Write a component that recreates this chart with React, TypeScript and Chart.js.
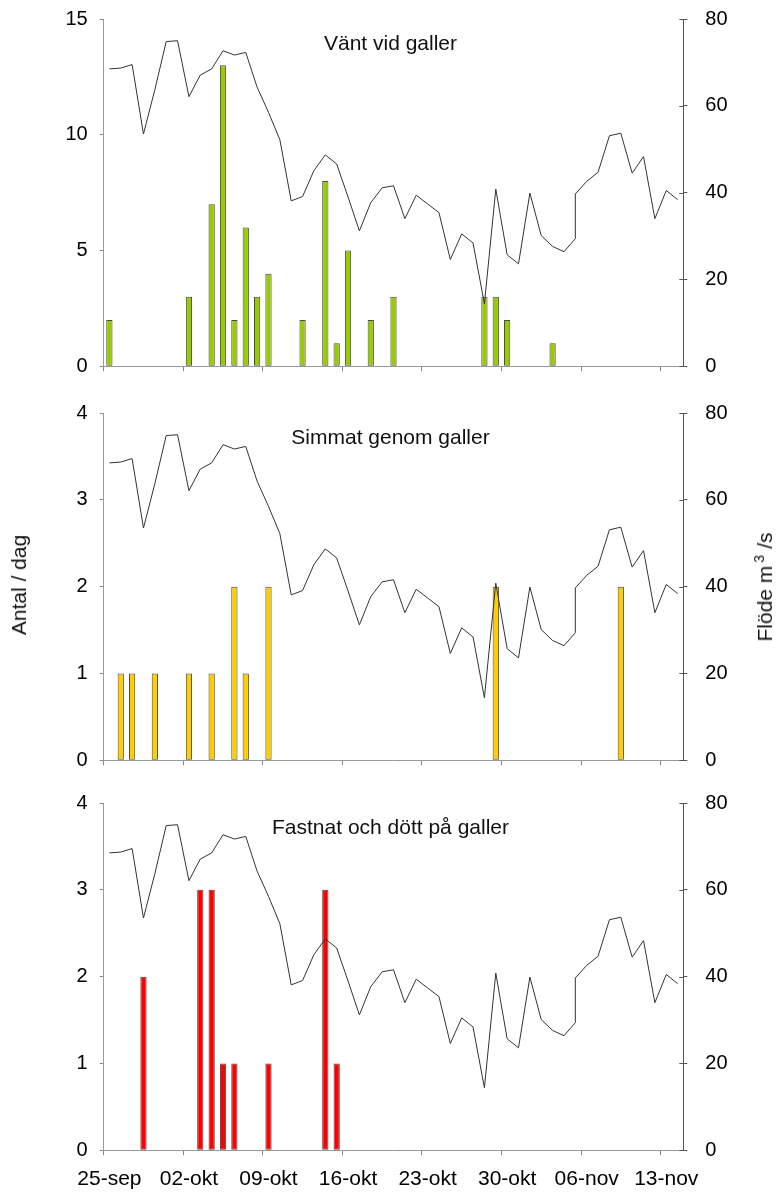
import React, { useEffect, useRef } from 'react';
import { Chart, registerables } from 'chart.js';

Chart.register(...registerables);

// Daily categories (25-sep .. 14-nov)
const DATES = [
  '25-sep', '26-sep', '27-sep', '28-sep', '29-sep', '30-sep',
  '01-okt', '02-okt', '03-okt', '04-okt', '05-okt', '06-okt', '07-okt', '08-okt', '09-okt', '10-okt',
  '11-okt', '12-okt', '13-okt', '14-okt', '15-okt', '16-okt', '17-okt', '18-okt', '19-okt', '20-okt',
  '21-okt', '22-okt', '23-okt', '24-okt', '25-okt', '26-okt', '27-okt', '28-okt', '29-okt', '30-okt', '31-okt',
  '01-nov', '02-nov', '03-nov', '04-nov', '05-nov', '06-nov', '07-nov', '08-nov', '09-nov', '10-nov',
  '11-nov', '12-nov', '13-nov', '14-nov',
];

// Flow series (m3/s); 05-nov holds two readings
const FLOW_DATES = [
  '25-sep', '26-sep', '27-sep', '28-sep', '29-sep', '30-sep',
  '01-okt', '02-okt', '03-okt', '04-okt', '05-okt', '06-okt', '07-okt', '08-okt', '09-okt', '10-okt',
  '11-okt', '12-okt', '13-okt', '14-okt', '15-okt', '16-okt', '17-okt', '18-okt', '19-okt', '20-okt',
  '21-okt', '22-okt', '23-okt', '24-okt', '25-okt', '26-okt', '27-okt', '28-okt', '29-okt', '30-okt', '31-okt',
  '01-nov', '02-nov', '03-nov', '04-nov', '05-nov', '05-nov', '06-nov', '07-nov', '08-nov', '09-nov', '10-nov',
  '11-nov', '12-nov', '13-nov', '14-nov',
];
const FLOW = [
  68.5, 68.7, 69.5, 53.5, 63.7, 74.8,
  75.0, 62.1, 67.1, 68.5, 72.7, 71.7, 72.3, 64.3, 58.5, 52.2,
  38.1, 39.1, 45.1, 48.7, 46.6, 39.0, 31.2, 37.7, 41.1, 41.6,
  34.0, 39.4, 37.4, 35.4, 24.6, 30.5, 28.4, 14.4, 40.8, 25.7, 23.6,
  39.9, 30.1, 27.6, 26.4, 29.4, 39.7, 42.6, 44.7, 53.1, 53.7, 44.5,
  48.3, 34.0, 40.5, 38.4,
];

// Counts per day
const VANT = [
  2, 0, 0, 0, 0, 0, 0, 3, 0, 7, 13, 2, 6, 3, 4, 0, 0, 2, 0, 8, 1, 5, 0, 2, 0, 3,
  0, 0, 0, 0, 0, 0, 0, 3, 3, 2, 0, 0, 0, 1, 0, 0, 0, 0, 0, 0, 0, 0, 0, 0, 0,
];
const SIMMAT = [
  0, 1, 1, 0, 1, 0, 0, 1, 0, 1, 0, 2, 1, 0, 2, 0, 0, 0, 0, 0, 0, 0, 0, 0, 0, 0,
  0, 0, 0, 0, 0, 0, 0, 0, 2, 0, 0, 0, 0, 0, 0, 0, 0, 0, 0, 2, 0, 0, 0, 0, 0,
];
const FASTNAT = [
  0, 0, 0, 2, 0, 0, 0, 0, 3, 3, 1, 1, 0, 0, 1, 0, 0, 0, 0, 3, 1, 0, 0, 0, 0, 0,
  0, 0, 0, 0, 0, 0, 0, 0, 0, 0, 0, 0, 0, 0, 0, 0, 0, 0, 0, 0, 0, 0, 0, 0, 0,
];

const TITLES = ['Vänt vid galler', 'Simmat genom galler', 'Fastnat och dött på galler'];
const LEFT_TITLE = 'Antal / dag';
const RIGHT_TITLE_MAIN = 'Flöde m';
const RIGHT_TITLE_SUP = '3';
const RIGHT_TITLE_END = '/s';

const FONT = "'Liberation Sans', Arial, Helvetica, sans-serif";
const W = 779;
const PAD_TOP = 30;
const PLOT_H = 347.3;
const LEFT_W = 103.7;
const RIGHT_W = 95.7;

type PanelProps = {
  title: string;
  counts: number[];
  color: string;
  yMax: number;
  yStep: number;
  top: number;
  height: number;
  showLabels: boolean;
};

function Panel({ title, counts, color, yMax, yStep, top, height, showLabels }: PanelProps) {
  const ref = useRef<HTMLCanvasElement>(null);

  useEffect(() => {
    const canvas = ref.current;
    if (!canvas) return;
    const xH = height - PAD_TOP - PLOT_H;

    const titlePlugin = {
      id: 'panelTitle',
      afterDraw(chart: any) {
        const { ctx, chartArea } = chart;
        ctx.save();
        ctx.font = `21px ${FONT}`;
        ctx.fillStyle = '#111';
        ctx.textAlign = 'center';
        ctx.textBaseline = 'alphabetic';
        ctx.fillText(title, (chartArea.left + chartArea.right) / 2 - 3, chartArea.top + 30.5);
        ctx.restore();
      },
    };

    const innerTicks = {
      id: 'innerTicks',
      afterDraw(chart: any) {
        const s = chart.scales.y2;
        const { ctx } = chart;
        ctx.save();
        ctx.strokeStyle = '#555';
        ctx.lineWidth = 1;
        s.ticks.forEach((t: any) => {
          const y = Math.round(s.getPixelForValue(t.value)) + 0.5;
          ctx.beginPath();
          ctx.moveTo(s.left - 4, y);
          ctx.lineTo(s.left, y);
          ctx.stroke();
        });
        ctx.restore();
      },
    };

    const chart = new Chart(canvas, {
      type: 'bar',
      data: {
        labels: DATES,
        datasets: [
          {
            type: 'line',
            data: FLOW_DATES.map((d, i) => ({ x: d, y: FLOW[i] })) as any,
            yAxisID: 'y2',
            borderColor: '#333',
            borderWidth: 1,
            pointRadius: 0,
            tension: 0,
            fill: false,
            order: 0,
          } as any,
          {
            type: 'bar',
            data: counts.map((v) => (v === 0 ? null : v)),
            yAxisID: 'y',
            backgroundColor: color,
            borderColor: '#4a4a4a',
            borderWidth: 1,
            borderSkipped: false,
            barPercentage: 0.55,
            categoryPercentage: 1,
            order: 1,
          } as any,
        ],
      },
      options: {
        animation: false,
        responsive: false,
        events: [],
        layout: { padding: { top: PAD_TOP, left: 0, right: 0, bottom: 0 } },
        plugins: { legend: { display: false }, tooltip: { enabled: false }, title: { display: false } },
        scales: {
          x: {
            type: 'category',
            offset: true,
            grid: {
              offset: true,
              drawOnChartArea: false,
              drawTicks: true,
              tickLength: 5,
              color: (ctx: any) =>
                typeof ctx.index === 'number' && ctx.index % 7 === 0 ? '#888' : 'rgba(0,0,0,0)',
            },
            border: { display: true, color: '#999', width: 1 },
            ticks: {
              display: showLabels,
              autoSkip: false,
              maxRotation: 0,
              minRotation: 0,
              padding: 11,
              color: '#000',
              font: { family: FONT, size: 21 },
              callback: (_v: any, index: number) => (index % 7 === 0 ? DATES[index] : ''),
            },
            afterFit: (s: any) => {
              s.height = xH;
            },
          },
          y: {
            type: 'linear',
            position: 'left',
            min: 0,
            max: yMax,
            ticks: { stepSize: yStep, padding: 12, color: '#000', font: { family: FONT, size: 20 } },
            grid: { drawOnChartArea: false, tickLength: 4, color: '#888' },
            border: { display: true, color: '#999', width: 1 },
            afterFit: (s: any) => {
              s.width = LEFT_W;
            },
          },
          y2: {
            type: 'linear',
            position: 'right',
            min: 0,
            max: 80,
            ticks: { stepSize: 20, padding: 18, color: '#000', font: { family: FONT, size: 20 } },
            grid: { drawOnChartArea: false, tickLength: 4, color: '#555' },
            border: { display: true, color: '#555', width: 1 },
            afterFit: (s: any) => {
              s.width = RIGHT_W;
            },
          },
        },
      } as any,
      plugins: [titlePlugin, innerTicks],
    });

    return () => chart.destroy();
  }, [title, counts, color, yMax, yStep, top, height, showLabels]);

  return (
    <canvas
      ref={ref}
      width={W}
      height={height}
      style={{ position: 'absolute', left: 0, top, width: W, height, display: 'block' }}
    />
  );
}

export default function App() {
  const sideTitle: React.CSSProperties = {
    position: 'absolute',
    transform: 'translate(-50%, -50%) rotate(-90deg)',
    whiteSpace: 'nowrap',
    fontFamily: FONT,
    fontSize: 21,
    lineHeight: '24px',
    color: '#111',
  };
  return (
    <div style={{ position: 'absolute', left: 0, top: 0, width: W, height: 1193, background: '#fff', overflow: 'hidden' }}>
      <Panel title={TITLES[0]} counts={VANT} color="#99CC00" yMax={15} yStep={5} top={-11} height={408} showLabels={false} />
      <Panel title={TITLES[1]} counts={SIMMAT} color="#FFCC00" yMax={4} yStep={1} top={383} height={408} showLabels={false} />
      <Panel title={TITLES[2]} counts={FASTNAT} color="#FF0000" yMax={4} yStep={1} top={773} height={420} showLabels={true} />
      <div style={{ ...sideTitle, left: 19, top: 585 }}>{LEFT_TITLE}</div>
      <div style={{ ...sideTitle, left: 765, top: 587 }}>
        {RIGHT_TITLE_MAIN}
        <sup style={{ fontSize: 14, margin: '0 6px 0 3px', verticalAlign: 'super', lineHeight: 0 }}>{RIGHT_TITLE_SUP}</sup>
        {RIGHT_TITLE_END}
      </div>
    </div>
  );
}
